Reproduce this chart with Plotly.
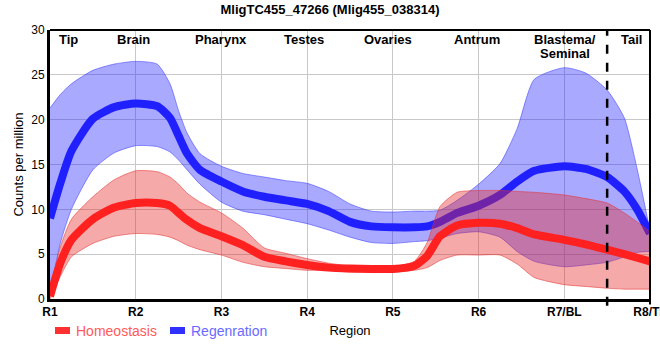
import plotly.graph_objects as go

# ---------------- data ----------------
title_text = "MligTC455_47266 (Mlig455_038314)"
region_ticks = ["R1", "R2", "R3", "R4", "R5", "R6", "R7/BL", "R8/TL"]
region_tick_pos = [1, 2, 3, 4, 5, 6, 7, 8]
region_names = ["Tip", "Brain", "Pharynx", "Testes", "Ovaries", "Antrum", "Blastema/<br>Seminal", "Tail"]
blastema_tail_boundary = 7.5

pos = [1, 1.12, 1.25, 1.5, 1.75, 2, 2.25, 2.4, 2.5, 2.6, 2.75, 3, 3.25, 3.5, 3.75, 4,
       4.25, 4.5, 4.75, 5, 5.25, 5.4, 5.55, 5.75, 6, 6.25, 6.45, 6.65, 7, 7.25, 7.5,
       7.7, 7.85, 8]

regen_mean = [9.0, 12.9, 16.5, 20.1, 21.4, 21.8, 21.5, 20.2, 18.2, 16.2, 14.4, 13.1, 12.0,
              11.4, 11.0, 10.6, 9.8, 8.6, 8.1, 8.0, 8.0, 8.1, 8.6, 9.6, 10.4, 11.6, 13.1,
              14.3, 14.8, 14.5, 13.6, 12.0, 10.0, 7.3]
regen_upper = [21.3, 22.8, 24.0, 25.5, 26.2, 26.5, 26.2, 24.0, 21.0, 18.5, 16.2, 14.8, 14.0,
               13.6, 13.2, 12.9, 12.0, 10.6, 9.8, 9.7, 9.8, 9.8, 9.9, 11.0, 12.8, 15.1, 19.0,
               24.5, 25.8, 25.2, 23.3, 20.2, 14.5, 7.6]
regen_lower = [0.5, 6.2, 10.0, 14.4, 16.3, 17.1, 17.0, 16.4, 15.5, 14.4, 12.8, 10.8, 9.8,
               9.4, 8.9, 8.4, 7.7, 6.9, 6.3, 6.2, 6.4, 6.5, 6.8, 7.3, 7.5, 6.9, 5.3, 4.2,
               3.6, 3.8, 4.1, 4.7, 5.2, 5.3]

homeo_mean = [0.3, 4.0, 6.6, 8.9, 10.2, 10.7, 10.7, 10.4, 9.6, 8.8, 7.9, 7.0, 6.0, 4.7,
              4.2, 3.8, 3.5, 3.4, 3.35, 3.35, 3.7, 4.8, 7.0, 8.2, 8.5, 8.4, 7.9, 7.2, 6.6,
              6.1, 5.5, 5.0, 4.6, 4.2]
homeo_upper = [1.0, 5.8, 8.9, 11.4, 13.3, 14.3, 14.2, 13.6, 12.8, 11.8, 10.8, 9.6, 7.9,
               5.7, 5.1, 4.5, 4.0, 3.7, 3.6, 3.6, 4.2, 6.3, 10.3, 11.9, 12.1, 12.1, 12.0,
               11.9, 11.6, 11.2, 10.7, 9.6, 8.6, 7.5]
homeo_lower = [0.0, 2.5, 4.7, 6.2, 7.0, 7.3, 7.2, 6.9, 6.5, 6.0, 5.5, 4.9, 4.1, 3.6, 3.4,
               3.2, 3.2, 3.0, 3.0, 3.0, 3.2, 3.5, 4.3, 4.9, 4.9, 4.9, 3.9, 2.4, 1.6, 1.4,
               1.2, 1.1, 1.1, 1.1]

series_names = ["Homeostasis", "Regenration"]

# ---------------- styles ----------------
FONT = "Liberation Sans, Arial, sans-serif"
BLUE_LINE = "#2020ff"
RED_LINE = "#ff2020"
BLUE_FILL = "rgba(40,40,255,0.40)"
RED_FILL = "rgba(230,40,40,0.40)"
BLUE_EDGE = "rgba(60,60,255,0.55)"
RED_EDGE = "rgba(230,50,50,0.55)"

fig = go.Figure()

def band(lower, upper, edge, fill):
    fig.add_trace(go.Scatter(x=pos, y=lower, mode="lines", line=dict(color=edge, width=1, shape="spline", smoothing=0.6),
                             showlegend=False, hoverinfo="skip"))
    fig.add_trace(go.Scatter(x=pos, y=upper, mode="lines", fill="tonexty", fillcolor=fill,
                             line=dict(color=edge, width=1, shape="spline", smoothing=0.6),
                             showlegend=False, hoverinfo="skip"))

band(regen_lower, regen_upper, BLUE_EDGE, BLUE_FILL)
fig.add_trace(go.Scatter(x=pos, y=regen_mean, mode="lines", name=series_names[1],
                         line=dict(color=BLUE_LINE, width=8, shape="spline", smoothing=0.6),
                         showlegend=False))
band(homeo_lower, homeo_upper, RED_EDGE, RED_FILL)
fig.add_trace(go.Scatter(x=pos, y=homeo_mean, mode="lines", name=series_names[0],
                         line=dict(color=RED_LINE, width=8, shape="spline", smoothing=0.6),
                         showlegend=False))

# dashed boundary between blastema and tail
fig.add_shape(type="line", xref="x", yref="paper", x0=blastema_tail_boundary, x1=blastema_tail_boundary,
              y0=-0.025, y1=1, line=dict(color="black", width=2.5, dash="dash"))
# thin top and right frame
fig.add_shape(type="line", xref="paper", yref="paper", x0=0, x1=1, y0=1, y1=1,
              line=dict(color="black", width=2))
fig.add_shape(type="line", xref="paper", yref="paper", x0=1, x1=1, y0=-0.02, y1=1,
              line=dict(color="black", width=2))

# region labels along the top
label_x = [1.22, 1.97, 2.99, 3.96, 4.94, 5.98, 7.01, 7.78]
for name, lx in zip(region_names, label_x):
    for i, part in enumerate(name.split("<br>")):
        fig.add_annotation(x=lx, y=1, xref="x", yref="paper", text="<b>%s</b>" % part,
                           showarrow=False, yanchor="middle", yshift=-9 - 14 * i,
                           font=dict(family=FONT, size=13, color="black"))

# custom legend (swatch + coloured text)
legend_items = [(series_names[0], "#ff3030", "#ff5a5a", 55), (series_names[1], "#3030ff", "#6a6aff", 170)]
for name, sw, tc, px in legend_items:
    x0 = (px - 50) / 600
    x1 = (px + 15 - 50) / 600
    fig.add_shape(type="rect", xref="paper", yref="paper", x0=x0, x1=x1,
                  y0=(299 - 334) / 269, y1=(299 - 327) / 269, fillcolor=sw, line=dict(width=0))
    fig.add_annotation(xref="paper", yref="paper", x=(px + 19 - 50) / 600, y=(299 - 331) / 269,
                       text=name, showarrow=False, xanchor="left", yanchor="middle",
                       font=dict(family=FONT, size=14, color=tc))

fig.update_layout(
    width=660, height=360,
    margin=dict(l=50, r=10, t=30, b=61, autoexpand=False),
    paper_bgcolor="white", plot_bgcolor="white",
    font=dict(family=FONT, size=12, color="black"),
    title=dict(text="<b>%s</b>" % title_text, x=0.5, xref="container", xanchor="center",
               y=1 - 9 / 360, yref="container", yanchor="middle",
               font=dict(family=FONT, size=13, color="black")),
    showlegend=False,
)
fig.update_xaxes(range=[1, 8], tickvals=region_tick_pos, ticktext=["<b>%s</b>" % t for t in region_ticks],
                 showgrid=True, gridcolor="#c8c8c8", gridwidth=1, zeroline=False,
                 showline=True, linecolor="black", linewidth=3, ticks="",
                 ticklabeloverflow="allow", automargin=False,
                 tickfont=dict(family=FONT, size=12, color="black"),
                 title=dict(text="Region", standoff=8, font=dict(family=FONT, size=13, color="black")))
fig.update_yaxes(range=[0, 30], tickvals=[0, 5, 10, 15, 20, 25, 30],
                 showgrid=True, gridcolor="#c8c8c8", gridwidth=1, zeroline=False,
                 showline=True, linecolor="black", linewidth=3, ticks="", automargin=False,
                 tickfont=dict(family=FONT, size=12, color="black"),
                 title=dict(text="Counts per million", standoff=5, font=dict(family=FONT, size=13, color="black")))

fig.write_html("out.html", config={"displayModeBar": False},
               post_script="document.body.style.margin='0';document.body.style.padding='0';")
